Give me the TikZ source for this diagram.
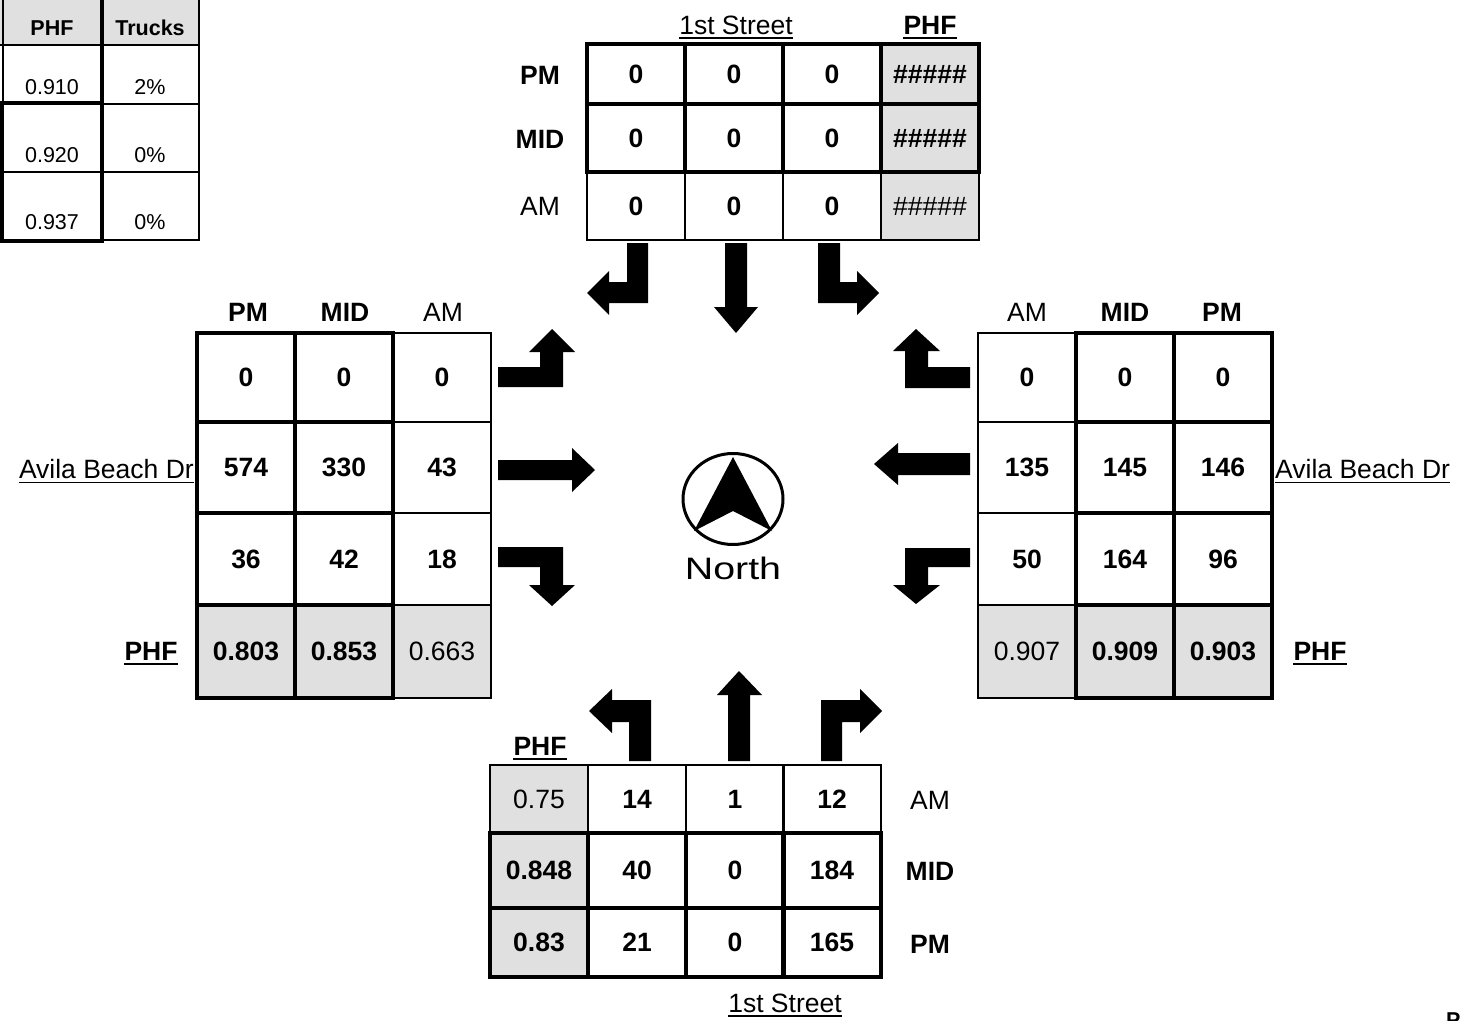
\documentclass[tikz,border=0pt]{standalone}
\usepackage{fontspec}
\setmainfont{Liberation Sans}
\usetikzlibrary{positioning,shapes.geometric}
\definecolor{cphf}{HTML}{E0E0E0}
\newcommand{\cellfont}{\fontsize{26.5}{31}\selectfont}
\newcommand{\keyfont}{\fontsize{21.5}{26}\selectfont}
\tikzset{
  cell/.style={draw, line width=1.6pt, inner sep=0pt, minimum width=98pt,
               font=\cellfont\bfseries},
  cellp/.style={cell, fill=cphf},
  heavy/.style={line width=4pt},
  reg/.style={font=\cellfont},
  lbl/.style={inner sep=0pt, font=\cellfont},
  lblb/.style={lbl, font=\cellfont\bfseries},
  ulbl/.style={lbl, text depth=3.5pt},
  ulblb/.style={lblb, text depth=3.5pt},
  uline/.style={line width=1.8pt},
  keycell/.style={draw, line width=1.6pt, inner sep=0pt, minimum width=98pt,
                  text depth=0pt, font=\keyfont},
  blk/.style={fill=black, draw=none},
}

\begin{document}
\begin{tikzpicture}[x=1pt, y=-1pt]
  \useasboundingbox[fill=white] (0,0) rectangle (1461,1020);

  % key table, top left
  \node[keycell, fill=cphf, minimum height=46pt] (kh0) at (-46,22) {};
  \node[keycell, fill=cphf, minimum height=46pt, text height=27pt, font=\keyfont\bfseries] (kh1) at (52,22) {PHF};
  \node[keycell, fill=cphf, minimum height=46pt, text height=27pt, font=\keyfont\bfseries] (kh2) at (150,22) {Trucks};
  \node[keycell, minimum height=59pt] (k10) at (-46,74.5) {};
  \node[keycell, minimum height=59pt, text height=39pt] (k11) at (52,74.5) {0.910};
  \node[keycell, minimum height=59pt, text height=39pt] (k12) at (150,74.5) {2\%};
  \node[keycell, minimum height=68pt] (k20) at (-46,138) {};
  \node[keycell, minimum height=68pt, text height=48pt] (k21) at (52,138) {0.920};
  \node[keycell, minimum height=68pt, text height=48pt] (k22) at (150,138) {0\%};
  \node[keycell, minimum height=68pt] (k30) at (-46,206) {};
  \node[keycell, minimum height=68pt, text height=47pt] (k31) at (52,206) {0.937};
  \node[keycell, minimum height=68pt, text height=47pt] (k32) at (150,206) {0\%};
  \draw[heavy] (k21.north west) rectangle (k31.south east);
  \draw[heavy] (kh1.north east) -- (k31.south east);

  % 1st Street, north leg
  \node[ulbl] (nst) at (736,27) {1st Street};
  \node[ulblb] (nphf) at (930,27) {PHF};
  \draw[uline] (nst.south west) -- (nst.south east);
  \draw[uline] (nphf.south west) -- (nphf.south east);
  \node[lblb] (npml) at (540,75) {PM};
  \node[lblb] (nmidl) at (540,139) {MID};
  \node[lbl] (naml) at (540,206) {AM};
  \node[cell, minimum height=68pt] (nam1) at (636,206) {0};
  \node[cell, minimum height=68pt] (nam2) at (734,206) {0};
  \node[cell, minimum height=68pt] (nam3) at (832,206) {0};
  \node[cellp, reg, minimum height=68pt] (namp) at (930,206) {\#\#\#\#\#};
  \node[cell, heavy, minimum height=60pt] (npm1) at (636,74) {0};
  \node[cell, heavy, minimum height=60pt] (npm2) at (734,74) {0};
  \node[cell, heavy, minimum height=60pt] (npm3) at (832,74) {0};
  \node[cellp, heavy, minimum height=60pt] (npmp) at (930,74) {\#\#\#\#\#};
  \node[cell, heavy, minimum height=68pt] (nmid1) at (636,138) {0};
  \node[cell, heavy, minimum height=68pt] (nmid2) at (734,138) {0};
  \node[cell, heavy, minimum height=68pt] (nmid3) at (832,138) {0};
  \node[cellp, heavy, minimum height=68pt] (nmidp) at (930,138) {\#\#\#\#\#};

  % Avila Beach Dr, west leg
  \node[lblb] (wpml) at (248,312) {PM};
  \node[lblb] (wmidl) at (345,312) {MID};
  \node[lbl] (waml) at (443,312) {AM};
  \node[ulbl, anchor=east] (wst) at (194,471) {Avila Beach Dr};
  \node[ulblb] (wphf) at (151,653) {PHF};
  \draw[uline] (wst.south west) -- (wst.south east);
  \draw[uline] (wphf.south west) -- (wphf.south east);
  \node[cell, minimum height=89pt] (wam1) at (442,377.5) {0};
  \node[cell, minimum height=91pt] (wam2) at (442,467.5) {43};
  \node[cell, minimum height=92pt] (wam3) at (442,559) {18};
  \node[cellp, reg, minimum height=93pt] (wamp) at (442,651.5) {0.663};
  \node[cell, heavy, minimum height=89pt] (wpm1) at (246,377.5) {0};
  \node[cell, heavy, minimum height=91pt] (wpm2) at (246,467.5) {574};
  \node[cell, heavy, minimum height=92pt] (wpm3) at (246,559) {36};
  \node[cellp, heavy, minimum height=93pt] (wpmp) at (246,651.5) {0.803};
  \node[cell, heavy, minimum height=89pt] (wmid1) at (344,377.5) {0};
  \node[cell, heavy, minimum height=91pt] (wmid2) at (344,467.5) {330};
  \node[cell, heavy, minimum height=92pt] (wmid3) at (344,559) {42};
  \node[cellp, heavy, minimum height=93pt] (wmidp) at (344,651.5) {0.853};

  % Avila Beach Dr, east leg
  \node[lbl] (eaml) at (1027,312) {AM};
  \node[lblb] (emidl) at (1125,312) {MID};
  \node[lblb] (epml) at (1222,312) {PM};
  \node[ulbl, anchor=west] (est) at (1275,471) {Avila Beach Dr};
  \node[ulblb] (ephf) at (1320,653) {PHF};
  \draw[uline] (est.south west) -- (est.south east);
  \draw[uline] (ephf.south west) -- (ephf.south east);
  \node[cell, minimum height=89pt] (eam1) at (1027,377.5) {0};
  \node[cell, minimum height=91pt] (eam2) at (1027,467.5) {135};
  \node[cell, minimum height=92pt] (eam3) at (1027,559) {50};
  \node[cellp, reg, minimum height=93pt] (eamp) at (1027,651.5) {0.907};
  \node[cell, heavy, minimum height=89pt] (emid1) at (1125,377.5) {0};
  \node[cell, heavy, minimum height=91pt] (emid2) at (1125,467.5) {145};
  \node[cell, heavy, minimum height=92pt] (emid3) at (1125,559) {164};
  \node[cellp, heavy, minimum height=93pt] (emidp) at (1125,651.5) {0.909};
  \node[cell, heavy, minimum height=89pt] (epm1) at (1223,377.5) {0};
  \node[cell, heavy, minimum height=91pt] (epm2) at (1223,467.5) {146};
  \node[cell, heavy, minimum height=92pt] (epm3) at (1223,559) {96};
  \node[cellp, heavy, minimum height=93pt] (epmp) at (1223,651.5) {0.903};

  % 1st Street, south leg
  \node[ulblb] (sphf) at (540,748) {PHF};
  \draw[uline] (sphf.south west) -- (sphf.south east);
  \node[lbl] (saml) at (930,800) {AM};
  \node[lblb] (smidl) at (930,871) {MID};
  \node[lblb] (spml) at (930,944) {PM};
  \node[ulbl] (sst) at (785,1005) {1st Street};
  \draw[uline] (sst.south west) -- (sst.south east);
  \node[cellp, reg, minimum height=68pt] (samp) at (539,799) {0.75};
  \node[cell, minimum height=68pt] (sam1) at (637,799) {14};
  \node[cell, minimum height=68pt] (sam2) at (735,799) {1};
  \node[cell, minimum height=68pt] (sam3) at (832,799) {12};
  \node[cellp, heavy, minimum height=75pt] (smidp) at (539,870.5) {0.848};
  \node[cell, heavy, minimum height=75pt] (smid1) at (637,870.5) {40};
  \node[cell, heavy, minimum height=75pt] (smid2) at (735,870.5) {0};
  \node[cell, heavy, minimum height=75pt] (smid3) at (832,870.5) {184};
  \node[cellp, heavy, minimum height=69pt] (spmp) at (539,942.5) {0.83};
  \node[cell, heavy, minimum height=69pt] (spm1) at (637,942.5) {21};
  \node[cell, heavy, minimum height=69pt] (spm2) at (735,942.5) {0};
  \node[cell, heavy, minimum height=69pt] (spm3) at (832,942.5) {165};

  % movement arrows
  \fill[blk] (627,243) -- (648,243) -- (648,303) -- (609,303) -- (609,315) -- (587,293) -- (609,271) -- (609,282) -- (627,282) -- cycle;
  \fill[blk] (725,243) -- (747,243) -- (747,307) -- (758,307) -- (736,333) -- (714,307) -- (725,307) -- cycle;
  \fill[blk] (818,243) -- (840,243) -- (840,282) -- (857,282) -- (857,271) -- (879,293) -- (857,315) -- (857,303) -- (818,303) -- cycle;

  \fill[blk] (629,761) -- (629,722) -- (612,722) -- (612,733) -- (589,711) -- (612,689) -- (612,700) -- (651,700) -- (651,761) -- cycle;
  \fill[blk] (728,761) -- (728,695) -- (717,695) -- (739,671) -- (762,695) -- (750,695) -- (750,761) -- cycle;
  \fill[blk] (821,761) -- (821,700) -- (860,700) -- (860,689) -- (882,711) -- (860,733) -- (860,722) -- (842,722) -- (842,761) -- cycle;

  \fill[blk] (498,367) -- (540,367) -- (540,352) -- (529,352) -- (552,329) -- (575,352) -- (563,352) -- (563,387) -- (498,387) -- cycle;
  \fill[blk] (498,460) -- (572,460) -- (572,448) -- (595,470) -- (572,492) -- (572,480) -- (498,480) -- cycle;
  \fill[blk] (498,547) -- (563,547) -- (563,585) -- (575,585) -- (552,606) -- (529,585) -- (540,585) -- (540,567) -- (498,567) -- cycle;

  \fill[blk] (970,367) -- (928,367) -- (928,351) -- (940,351) -- (916,329) -- (893,351) -- (905,351) -- (905,388) -- (970,388) -- cycle;
  \fill[blk] (970,453) -- (898,453) -- (898,443) -- (874,464) -- (898,485) -- (898,475) -- (970,475) -- cycle;
  \fill[blk] (970,548) -- (905,548) -- (905,585) -- (893,585) -- (916,604) -- (940,585) -- (928,585) -- (928,567) -- (970,567) -- cycle;

  % north sign
  \node[draw, ellipse, line width=3pt, minimum width=100pt, minimum height=91pt, inner sep=0pt] (compass) at (733,499) {};
  \fill[blk] (733,457) -- (772,531) -- (733,511) -- (694,531) -- cycle;
  \node[inner sep=0pt, font=\fontsize{31}{36}\selectfont, xscale=1.27] (north) at (733,568) {North};

  \node[inner sep=0pt, anchor=north west, font=\keyfont\bfseries] (pg) at (1446,1012) {P};
\end{tikzpicture}
\end{document}
